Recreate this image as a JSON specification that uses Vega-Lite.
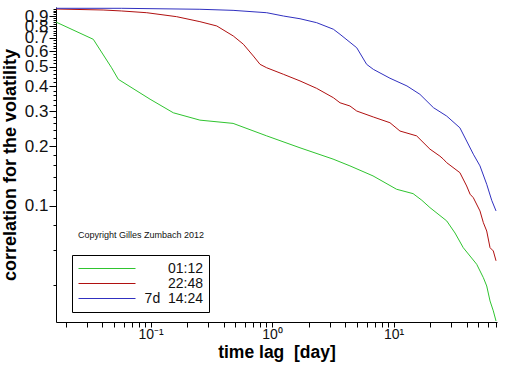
{
  "$schema": "https://vega.github.io/schema/vega-lite/v6.json",
  "width": 441,
  "height": 315,
  "autosize": "none",
  "padding": {"left": 56, "top": 7, "right": 15, "bottom": 44},
  "background": "white",
  "config": {
    "view": {"stroke": null},
    "font": "Liberation Sans",
    "axis": {"grid": false, "domainColor": "black", "tickColor": "black", "labelColor": "#111", "titleColor": "black", "labelFont": "Liberation Sans", "titleFont": "Liberation Sans"}
  },
  "data": {"values": [
    {"s": "01:12", "x": 0.01667, "y": 0.840},
    {"s": "01:12", "x": 0.0338, "y": 0.688},
    {"s": "01:12", "x": 0.0478, "y": 0.495},
    {"s": "01:12", "x": 0.0543, "y": 0.433},
    {"s": "01:12", "x": 0.0991, "y": 0.344},
    {"s": "01:12", "x": 0.154, "y": 0.294},
    {"s": "01:12", "x": 0.255, "y": 0.270},
    {"s": "01:12", "x": 0.478, "y": 0.260},
    {"s": "01:12", "x": 0.904, "y": 0.225},
    {"s": "01:12", "x": 1.70, "y": 0.196},
    {"s": "01:12", "x": 3.18, "y": 0.172},
    {"s": "01:12", "x": 4.38, "y": 0.159},
    {"s": "01:12", "x": 6.78, "y": 0.1416},
    {"s": "01:12", "x": 10.6, "y": 0.1213},
    {"s": "01:12", "x": 14.5, "y": 0.1153},
    {"s": "01:12", "x": 17.1, "y": 0.1068},
    {"s": "01:12", "x": 19.95, "y": 0.0981},
    {"s": "01:12", "x": 27.4, "y": 0.0841},
    {"s": "01:12", "x": 32.1, "y": 0.0731},
    {"s": "01:12", "x": 37.5, "y": 0.0617},
    {"s": "01:12", "x": 48.4, "y": 0.0509},
    {"s": "01:12", "x": 54.9, "y": 0.0436},
    {"s": "01:12", "x": 58.5, "y": 0.0396},
    {"s": "01:12", "x": 62.3, "y": 0.0333},
    {"s": "01:12", "x": 66.3, "y": 0.0297},
    {"s": "01:12", "x": 69.8, "y": 0.0264},
    {"s": "22:48", "x": 0.01667, "y": 0.977},
    {"s": "22:48", "x": 0.0407, "y": 0.966},
    {"s": "22:48", "x": 0.0579, "y": 0.955},
    {"s": "22:48", "x": 0.0931, "y": 0.936},
    {"s": "22:48", "x": 0.164, "y": 0.894},
    {"s": "22:48", "x": 0.255, "y": 0.844},
    {"s": "22:48", "x": 0.351, "y": 0.803},
    {"s": "22:48", "x": 0.480, "y": 0.715},
    {"s": "22:48", "x": 0.581, "y": 0.650},
    {"s": "22:48", "x": 0.702, "y": 0.567},
    {"s": "22:48", "x": 0.797, "y": 0.515},
    {"s": "22:48", "x": 0.904, "y": 0.495},
    {"s": "22:48", "x": 1.24, "y": 0.459},
    {"s": "22:48", "x": 1.70, "y": 0.425},
    {"s": "22:48", "x": 2.33, "y": 0.390},
    {"s": "22:48", "x": 3.20, "y": 0.350},
    {"s": "22:48", "x": 3.63, "y": 0.330},
    {"s": "22:48", "x": 4.38, "y": 0.318},
    {"s": "22:48", "x": 4.98, "y": 0.300},
    {"s": "22:48", "x": 6.82, "y": 0.280},
    {"s": "22:48", "x": 9.35, "y": 0.262},
    {"s": "22:48", "x": 11.3, "y": 0.238},
    {"s": "22:48", "x": 15.5, "y": 0.225},
    {"s": "22:48", "x": 19.95, "y": 0.193},
    {"s": "22:48", "x": 24.1, "y": 0.178},
    {"s": "22:48", "x": 25.7, "y": 0.172},
    {"s": "22:48", "x": 27.4, "y": 0.165},
    {"s": "22:48", "x": 35.2, "y": 0.147},
    {"s": "22:48", "x": 40.0, "y": 0.126},
    {"s": "22:48", "x": 42.7, "y": 0.1145},
    {"s": "22:48", "x": 45.4, "y": 0.110},
    {"s": "22:48", "x": 51.5, "y": 0.0944},
    {"s": "22:48", "x": 54.9, "y": 0.0824},
    {"s": "22:48", "x": 58.5, "y": 0.0748},
    {"s": "22:48", "x": 62.3, "y": 0.0617},
    {"s": "22:48", "x": 66.3, "y": 0.0594},
    {"s": "22:48", "x": 69.8, "y": 0.0530},
    {"s": "7d\u00a0\u00a014:24", "x": 0.01667, "y": 0.985},
    {"s": "7d\u00a0\u00a014:24", "x": 0.058, "y": 0.985},
    {"s": "7d\u00a0\u00a014:24", "x": 0.255, "y": 0.974},
    {"s": "7d\u00a0\u00a014:24", "x": 0.478, "y": 0.962},
    {"s": "7d\u00a0\u00a014:24", "x": 0.904, "y": 0.936},
    {"s": "7d\u00a0\u00a014:24", "x": 1.24, "y": 0.901},
    {"s": "7d\u00a0\u00a014:24", "x": 1.70, "y": 0.873},
    {"s": "7d\u00a0\u00a014:24", "x": 2.33, "y": 0.834},
    {"s": "7d\u00a0\u00a014:24", "x": 3.20, "y": 0.773},
    {"s": "7d\u00a0\u00a014:24", "x": 3.63, "y": 0.729},
    {"s": "7d\u00a0\u00a014:24", "x": 4.98, "y": 0.624},
    {"s": "7d\u00a0\u00a014:24", "x": 6.01, "y": 0.515},
    {"s": "7d\u00a0\u00a014:24", "x": 6.82, "y": 0.486},
    {"s": "7d\u00a0\u00a014:24", "x": 9.35, "y": 0.4385},
    {"s": "7d\u00a0\u00a014:24", "x": 12.9, "y": 0.401},
    {"s": "7d\u00a0\u00a014:24", "x": 16.5, "y": 0.364},
    {"s": "7d\u00a0\u00a014:24", "x": 21.3, "y": 0.312},
    {"s": "7d\u00a0\u00a014:24", "x": 27.4, "y": 0.283},
    {"s": "7d\u00a0\u00a014:24", "x": 35.2, "y": 0.247},
    {"s": "7d\u00a0\u00a014:24", "x": 40.0, "y": 0.212},
    {"s": "7d\u00a0\u00a014:24", "x": 45.4, "y": 0.182},
    {"s": "7d\u00a0\u00a014:24", "x": 51.5, "y": 0.159},
    {"s": "7d\u00a0\u00a014:24", "x": 58.5, "y": 0.1285},
    {"s": "7d\u00a0\u00a014:24", "x": 64.3, "y": 0.1068},
    {"s": "7d\u00a0\u00a014:24", "x": 69.8, "y": 0.0944}
  ]},
  "layer": [
    {
      "mark": {"type": "line", "strokeWidth": 1, "clip": true},
      "encoding": {
        "x": {
          "field": "x", "type": "quantitative",
          "scale": {"type": "log", "domain": [0.01667, 71.1], "nice": false},
          "axis": {
            "values": [0.02,0.03,0.04,0.05,0.06,0.07,0.08,0.09,0.1,0.2,0.3,0.4,0.5,0.6,0.7,0.8,0.9,1,2,3,4,5,6,7,8,9,10,20,30,40,50,60,70],
            "labelExpr": "datum.value == 0.1 ? '10\u207b\u00b9' : datum.value == 1 ? '10\u2070' : datum.value == 10 ? '10\u00b9' : ''",
            "tickSize": 5,
            "labelFontSize": 14,
            "labelPadding": 0,
            "labelFlush": false,
            "labelOverlap": false,
            "title": "time lag\u00a0 [day]",
            "titleFontSize": 17.5,
            "titleFontWeight": "bold",
            "titlePadding": 2
          }
        },
        "y": {
          "field": "y", "type": "quantitative",
          "scale": {"type": "log", "domain": [0.0261, 1.0], "nice": false},
          "axis": {
            "values": [0.04,0.06,0.08,0.1,0.12,0.14,0.16,0.18,0.2,0.22,0.24,0.26,0.28,0.3,0.32,0.34,0.36,0.38,0.4,0.42,0.44,0.46,0.48,0.5,0.52,0.54,0.56,0.58,0.6,0.62,0.64,0.66,0.68,0.7,0.72,0.74,0.76,0.78,0.8,0.82,0.84,0.86,0.88,0.9,0.92,0.94,0.96,0.98],
            "labelExpr": "abs(datum.value*10 - round(datum.value*10)) < 0.0001 ? format(datum.value, '.1f') : ''",
            "tickSize": {"condition": {"test": "abs(datum.value*10 - round(datum.value*10)) < 0.0001", "value": 7}, "value": 3},
            "labelFontSize": 17,
            "labelPadding": 1,
            "labelOverlap": false,
            "labelFlush": false,
            "title": "correlation for the volatility",
            "titleFontSize": 18,
            "titleFontWeight": "bold",
            "titlePadding": 5
          }
        },
        "color": {
          "field": "s", "type": "nominal",
          "scale": {"domain": ["01:12", "22:48", "7d\u00a0\u00a014:24"], "range": ["#2fc42f", "#b01010", "#3030c0"]},
          "legend": {
            "orient": "none", "legendX": 16, "legendY": 248,
            "title": null,
            "symbolType": "stroke", "symbolSize": 3249, "symbolStrokeWidth": 1,
            "clipHeight": 15, "rowPadding": 0,
            "labelAlign": "right", "labelOffset": 67, "labelFontSize": 14, "labelLimit": 300,
            "labelColor": "#111", "labelFont": "Liberation Sans",
            "padding": 6, "strokeColor": "black", "fillColor": "white"
          }
        }
      }
    },
    {
      "data": {"values": [{"note": "copyright"}]},
      "mark": {"type": "text", "text": "Copyright Gilles Zumbach 2012", "align": "left", "baseline": "alphabetic", "fontSize": 9, "font": "Liberation Sans", "color": "#111"},
      "encoding": {
        "x": {"datum": 0.0253, "type": "quantitative"},
        "y": {"datum": 0.069, "type": "quantitative"}
      }
    }
  ]
}
